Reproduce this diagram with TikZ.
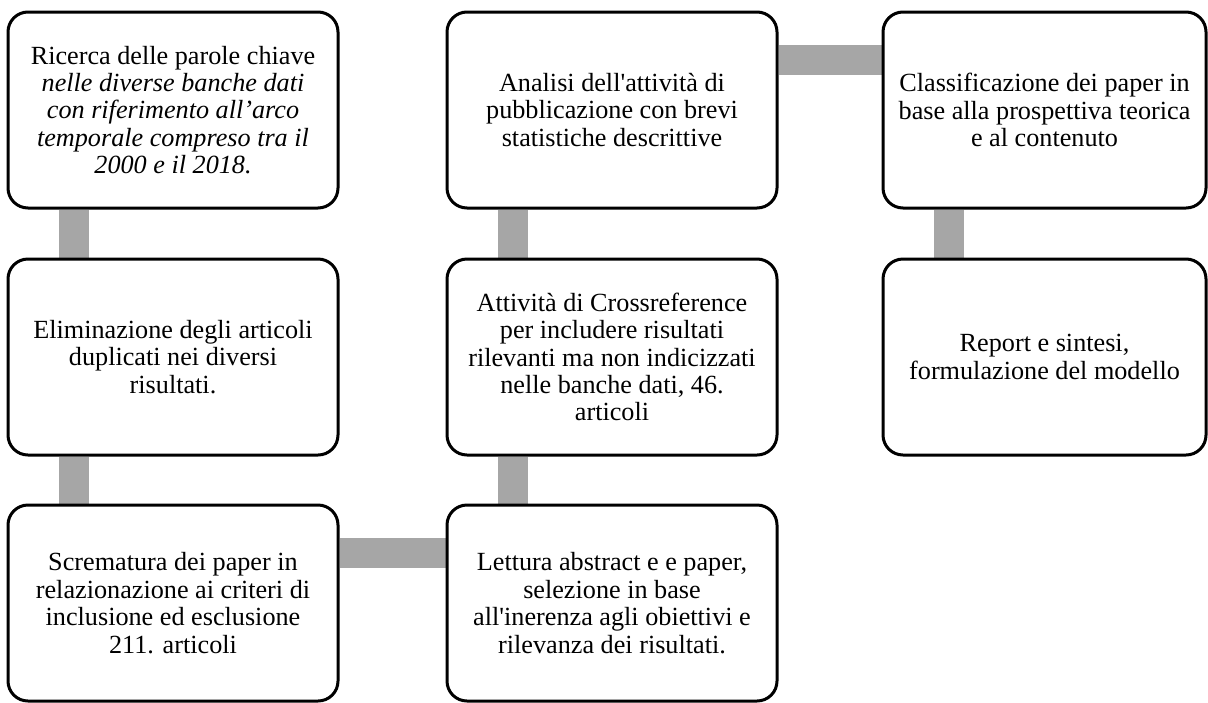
\documentclass[tikz,border=0pt]{standalone}
\usepackage{fontspec}
\setmainfont{Liberation Serif}
\usetikzlibrary{backgrounds}
\definecolor{linkgray}{RGB}{166,166,166}
\tikzset{
	stepbox/.style={draw, line width=1.5pt, rounded corners=10pt, fill=white,
		minimum width=165pt, minimum height=98pt, inner sep=2pt, align=center,
		font=\fontsize{13.1}{13.7}\selectfont},
	link/.style={draw=linkgray, line width=15pt}
}

\begin{document}
\begin{tikzpicture}[x=0.5pt, y=-0.5pt]
	\useasboundingbox (0,0) rectangle (1208,702);

	\node[stepbox] (Ricerca) at (173, 110) {Ricerca delle parole chiave\\ \textit{nelle diverse banche dati}\\ \textit{con riferimento all’arco}\\ \textit{temporale compreso tra il}\\ \textit{2000 e il 2018.}};
	\node[stepbox] (Eliminazione) at (173, 357) {Eliminazione degli articoli\\ duplicati nei diversi\\ risultati.};
	\node[stepbox] (Scrematura) at (173, 603) {Scrematura dei paper in\\ relazionazione ai criteri di\\ inclusione ed esclusione\\ 211. articoli};

	\node[stepbox] (Analisi) at (612, 110) {Analisi dell\textquotesingle attività di\\ pubblicazione con brevi\\ statistiche descrittive};
	\node[stepbox] (Crossref) at (612, 357) {Attività di Crossreference\\ per includere risultati\\ rilevanti ma non indicizzati\\ nelle banche dati, 46.\\ articoli};
	\node[stepbox] (Lettura) at (612, 603) {Lettura abstract e e paper,\\ selezione in base\\ all\textquotesingle inerenza agli obiettivi e\\ rilevanza dei risultati.};

	\node[stepbox, minimum width=161.5pt] (Classificazione) at (1044.5, 110) {Classificazione dei paper in\\ base alla prospettiva teorica\\ e al contenuto};
	\node[stepbox, minimum width=161.5pt] (Report) at (1044.5, 357) {Report e sintesi,\\ formulazione del modello};

	\begin{scope}[on background layer]
		\draw[link] ([xshift=33.5pt]Ricerca.south west) -- ([xshift=33.5pt]Eliminazione.north west);
		\draw[link] ([xshift=33.5pt]Eliminazione.south west) -- ([xshift=33.5pt]Scrematura.north west);
		\draw[link] ([yshift=-24.5pt]Scrematura.north east) -- ([yshift=-24.5pt]Lettura.north west);
		\draw[link] ([xshift=33.5pt]Lettura.north west) -- ([xshift=33.5pt]Crossref.south west);
		\draw[link] ([xshift=33.5pt]Crossref.north west) -- ([xshift=33.5pt]Analisi.south west);
		\draw[link] ([yshift=-24.5pt]Analisi.north east) -- ([yshift=-24.5pt]Classificazione.north west);
		\draw[link] ([xshift=33.5pt]Classificazione.south west) -- ([xshift=33.5pt]Report.north west);
	\end{scope}
\end{tikzpicture}
\end{document}
